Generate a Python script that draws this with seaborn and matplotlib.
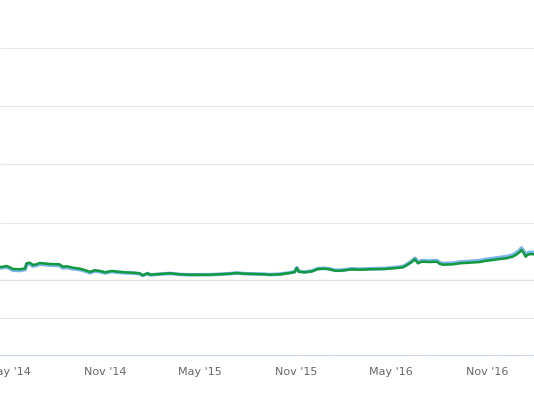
import pandas as pd
import numpy as np
import matplotlib
matplotlib.use("Agg")
import matplotlib.pyplot as plt
import matplotlib.dates as mdates
import seaborn as sns

# === price series ===
dates = [
    "2014-04-13", "2014-04-19", "2014-04-26", "2014-05-08", "2014-05-21", "2014-05-31",
    "2014-06-03", "2014-06-09", "2014-06-15", "2014-06-22", "2014-06-28", "2014-07-17",
    "2014-08-05", "2014-08-11", "2014-08-19", "2014-08-30", "2014-09-13", "2014-09-26",
    "2014-10-02", "2014-10-11", "2014-10-21", "2014-10-31", "2014-11-13", "2014-11-23",
    "2014-12-08", "2014-12-23", "2015-01-05", "2015-01-11", "2015-01-21", "2015-01-25",
    "2015-02-13", "2015-03-04", "2015-03-23", "2015-04-11", "2015-04-30", "2015-05-20",
    "2015-06-08", "2015-06-27", "2015-07-10", "2015-07-25", "2015-08-13", "2015-09-01",
    "2015-09-11", "2015-09-30", "2015-10-19", "2015-10-29", "2015-11-02", "2015-11-06",
    "2015-11-17", "2015-12-01", "2015-12-12", "2015-12-26", "2016-01-04", "2016-01-14",
    "2016-01-23", "2016-02-02", "2016-02-15", "2016-03-01", "2016-03-20", "2016-04-18",
    "2016-05-17", "2016-05-23", "2016-05-31", "2016-06-09", "2016-06-15", "2016-06-21",
    "2016-06-28", "2016-07-14", "2016-07-27", "2016-08-02", "2016-08-08", "2016-08-27",
    "2016-09-09", "2016-09-28", "2016-10-17", "2016-10-30", "2016-11-11", "2016-11-24",
    "2016-12-07", "2016-12-19", "2016-12-27", "2017-01-01", "2017-01-05", "2017-01-09",
    "2017-01-13", "2017-01-16", "2017-01-22", "2017-01-29",
]
green = [
    240, 245, 257, 206, 201, 215,
    304, 314, 274, 286, 309, 292,
    286, 245, 252, 228, 211, 177,
    154, 184, 172, 149, 172, 160,
    149, 142, 132, 98, 132, 108,
    120, 132, 115, 108, 108, 108,
    115, 125, 137, 125, 120, 115,
    108, 115, 137, 154, 223, 160,
    149, 166, 206, 211, 201, 177,
    177, 184, 201, 194, 201, 206,
    228, 235, 274, 326, 372, 304,
    331, 326, 331, 292, 280, 286,
    304, 314, 326, 348, 360, 377,
    389, 417, 458, 492, 532, 485,
    417, 446, 463, 458,
]
blue = [
    225, 228, 240, 185, 180, 195,
    285, 295, 255, 268, 290, 272,
    266, 225, 232, 210, 195, 162,
    140, 170, 160, 138, 162, 150,
    140, 135, 126, 94, 128, 104,
    117, 130, 113, 106, 107, 108,
    116, 126, 138, 126, 121, 117,
    110, 117, 140, 158, 228, 166,
    155, 172, 212, 218, 208, 184,
    184, 192, 209, 203, 210, 216,
    240, 248, 288, 342, 390, 322,
    350, 345, 350, 312, 300, 307,
    326, 337, 350, 373, 386, 404,
    417, 446, 488, 524, 566, 518,
    448, 477, 494, 488,
]

# === volume pane ===
vol_dates = [
    "2015-11-02", "2016-01-12", "2016-06-15", "2016-06-21", "2016-06-26", "2016-07-04",
    "2016-07-14", "2016-07-22", "2016-07-29", "2016-08-06", "2016-11-05", "2016-11-20",
    "2016-12-23", "2016-12-29", "2017-01-04", "2017-01-09", "2017-01-15", "2017-01-18",
]
volume = [5.4, 4.0, 5.4, 8.1, 5.4, 4.0, 5.4, 4.0, 6.8, 4.0, 5.4, 4.0, 5.4, 8.1, 6.8, 8.1, 5.4, 4.0]

tick_dates = ["2014-05-01", "2014-11-01", "2015-05-01", "2015-11-01", "2016-05-01", "2016-11-01"]

df = pd.DataFrame({
    "date": pd.to_datetime(dates * 2),
    "value": blue + green,
    "series": ["blue"] * len(dates) + ["green"] * len(dates),
})

sns.set_style("white")
plt.rcParams["font.family"] = ["DejaVu Sans"]

fig = plt.figure(figsize=(5.34, 3.96), dpi=100)
ax1 = fig.add_axes([0, 0.2904, 1, 0.7096])
ax2 = fig.add_axes([0, 0.1035, 1, 0.1869], sharex=ax1)

grid_c = "#e6e6e6"
axis_c = "#ccd6eb"

# top pane
for y in [1000, 2000, 3000, 4000]:
    ax1.axhline(y, color=grid_c, lw=0.75, zorder=0)
ax1.axhline(0, color="#e0e0e0", lw=1.7, zorder=0)
sns.lineplot(data=df[df.series == "blue"], x="date", y="value", color="#7cb5ec",
             lw=2.6, ax=ax1, legend=False, estimator=None)
sns.lineplot(data=df[df.series == "green"], x="date", y="value", color="#11993f",
             lw=1.8, ax=ax1, legend=False, estimator=None)
ax1.set_ylim(0, 4820)

# bottom pane
ax2.axhline(100, color=grid_c, lw=0.75, zorder=0)
ax2.bar(pd.to_datetime(vol_dates), volume, width=1.5, color="#434348", zorder=2)
ax2.set_ylim(0, 200)

ax1.set_xlim(pd.Timestamp("2014-04-13"), pd.Timestamp("2017-01-29"))

for ax in (ax1, ax2):
    for s in ax.spines.values():
        s.set_visible(False)
    ax.set_xlabel("")
    ax.set_ylabel("")
    ax.set_yticks([])

ax1.tick_params(axis="x", length=0, labelbottom=False)
ax2.spines["bottom"].set_visible(True)
ax2.spines["bottom"].set_color(axis_c)
ax2.spines["bottom"].set_linewidth(0.75)
ax2.set_xticks(pd.to_datetime(tick_dates))
ax2.xaxis.set_major_formatter(mdates.DateFormatter("%b '%y"))
ax2.tick_params(axis="x", length=7.2, width=0.75, color=axis_c, pad=1.5,
                labelsize=8, labelcolor="#666666")

fig.savefig("out.png", dpi=100)
plt.close()
